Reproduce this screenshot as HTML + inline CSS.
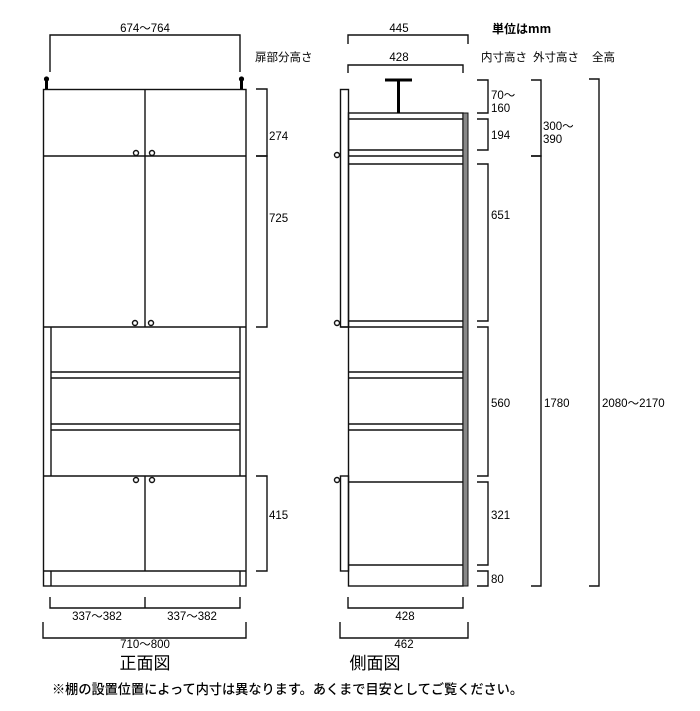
<!DOCTYPE html>
<html><head><meta charset="utf-8"><style>
html,body{margin:0;padding:0;background:#fff;}
svg{display:block;}
text{font-family:"Liberation Sans","Noto Sans CJK JP",sans-serif;font-size:11.5px;fill:#000;}
.j{font-family:"Noto Sans CJK JP","Liberation Sans",sans-serif;}
</style></head><body>
<svg width="700" height="711" viewBox="0 0 700 711" xmlns="http://www.w3.org/2000/svg">
<g fill="none" stroke="#111" stroke-width="1.4">
<rect x="43.5" y="89.5" width="202.5" height="496.5"/>
<line x1="43.5" y1="156" x2="246" y2="156"/>
<line x1="43.5" y1="327" x2="246" y2="327"/>
<line x1="145" y1="89" x2="145" y2="327"/>
<line x1="51" y1="327" x2="51" y2="476"/>
<line x1="240" y1="327" x2="240" y2="476"/>
<line x1="51" y1="372" x2="240" y2="372"/>
<line x1="51" y1="378" x2="240" y2="378"/>
<line x1="51" y1="424" x2="240" y2="424"/>
<line x1="51" y1="430" x2="240" y2="430"/>
<line x1="43.5" y1="476" x2="246" y2="476"/>
<line x1="43.5" y1="571" x2="246" y2="571"/>
<line x1="145" y1="476" x2="145" y2="571"/>
<line x1="51" y1="571" x2="51" y2="586"/>
<line x1="240" y1="571" x2="240" y2="586"/>
<circle cx="136" cy="153" r="2.5"/><circle cx="152" cy="153" r="2.5"/>
<circle cx="135" cy="323" r="2.5"/><circle cx="151" cy="323" r="2.5"/>
<circle cx="136" cy="480" r="2.5"/><circle cx="152" cy="480" r="2.5"/>
<polyline points="50,72 50,35 240,35 240,72"/>
<polyline points="256,89 267,89 267,156 256,156"/>
<polyline points="256,156 267,156 267,327 256,327"/>
<polyline points="256,476 267,476 267,571 256,571"/>
<polyline points="50,597 50,608 240,608 240,597"/>
<line x1="145" y1="597" x2="145" y2="608"/>
<polyline points="43,622 43,638 246,638 246,622"/>
<rect x="340.5" y="89.5" width="8" height="237.5"/>
<rect x="340.5" y="476" width="8" height="95"/>
<rect x="348.5" y="113" width="114.5" height="473"/>
<line x1="348.5" y1="119" x2="463" y2="119"/>
<line x1="348.5" y1="150" x2="463" y2="150"/>
<line x1="348.5" y1="156" x2="468" y2="156"/>
<line x1="348.5" y1="164" x2="463" y2="164"/>
<line x1="348.5" y1="321" x2="463" y2="321"/>
<line x1="340.5" y1="327" x2="463" y2="327"/>
<line x1="348.5" y1="372" x2="463" y2="372"/>
<line x1="348.5" y1="378" x2="463" y2="378"/>
<line x1="348.5" y1="424" x2="463" y2="424"/>
<line x1="348.5" y1="430" x2="463" y2="430"/>
<line x1="348.5" y1="482" x2="463" y2="482"/>
<line x1="348.5" y1="565" x2="463" y2="565"/>
<circle cx="337" cy="155" r="2.5"/><circle cx="337" cy="323" r="2.5"/><circle cx="337" cy="480" r="2.5"/>
<polyline points="348,44 348,35 468,35 468,44"/>
<polyline points="348,73 348,65 463,65 463,73"/>
<polyline points="477,80 488,80 488,113 477,113"/>
<polyline points="477,119 488,119 488,150 477,150"/>
<polyline points="477,164 488,164 488,321 477,321"/>
<polyline points="477,327 488,327 488,476 477,476"/>
<polyline points="477,482 488,482 488,565 477,565"/>
<polyline points="477,571 488,571 488,586 477,586"/>
<polyline points="531,80 541,80 541,156 531,156"/>
<polyline points="531,156 541,156 541,586 531,586"/>
<polyline points="589,79 599,79 599,586 589,586"/>
<polyline points="348,597 348,608 463,608 463,597"/>
<polyline points="340,622 340,638 468,638 468,622"/>
</g>
<rect x="463" y="113" width="5" height="473" fill="#888" stroke="#111" stroke-width="1"/>
<line x1="385" y1="80" x2="412" y2="80" stroke="#000" stroke-width="3"/>
<line x1="398.5" y1="80" x2="398.5" y2="113" stroke="#000" stroke-width="3"/>
<line x1="46.5" y1="79" x2="46.5" y2="89" stroke="#000" stroke-width="3"/>
<circle cx="46.5" cy="79" r="2.6" fill="#000"/>
<line x1="241.5" y1="79" x2="241.5" y2="89" stroke="#000" stroke-width="3"/>
<circle cx="241.5" cy="79" r="2.6" fill="#000"/>
<text x="145" y="32" text-anchor="middle">674～764</text>
<text class="j" x="255" y="61">扉部分高さ</text>
<text x="269" y="140">274</text>
<text x="269" y="222">725</text>
<text x="269" y="519">415</text>
<text x="97" y="620" text-anchor="middle">337～382</text>
<text x="192" y="620" text-anchor="middle">337～382</text>
<text x="145" y="648" text-anchor="middle">710～800</text>
<text class="j" x="145" y="669" text-anchor="middle" style="font-size:17px;font-weight:400">正面図</text>
<text x="399" y="32" text-anchor="middle">445</text>
<text x="399" y="61" text-anchor="middle">428</text>
<text class="j" x="492" y="33" style="font-weight:bold;font-size:12px">単位はmm</text>
<text class="j" x="481" y="61">内寸高さ</text>
<text class="j" x="533" y="61">外寸高さ</text>
<text class="j" x="592" y="61">全高</text>
<text x="491" y="99">70～</text>
<text x="491" y="112">160</text>
<text x="491" y="139">194</text>
<text x="491" y="219">651</text>
<text x="491" y="407">560</text>
<text x="491" y="519">321</text>
<text x="491" y="583">80</text>
<text x="543" y="130">300～</text>
<text x="543" y="143">390</text>
<text x="544" y="407">1780</text>
<text x="602" y="407">2080～2170</text>
<text x="405" y="620" text-anchor="middle">428</text>
<text x="404" y="648" text-anchor="middle">462</text>
<text class="j" x="375" y="669" text-anchor="middle" style="font-size:17px;font-weight:400">側面図</text>
<text class="j" x="52" y="694" style="font-size:13.5px;font-weight:500" textLength="471" lengthAdjust="spacingAndGlyphs">※棚の設置位置によって内寸は異なります。あくまで目安としてご覧ください。</text>
</svg>
</body></html>
